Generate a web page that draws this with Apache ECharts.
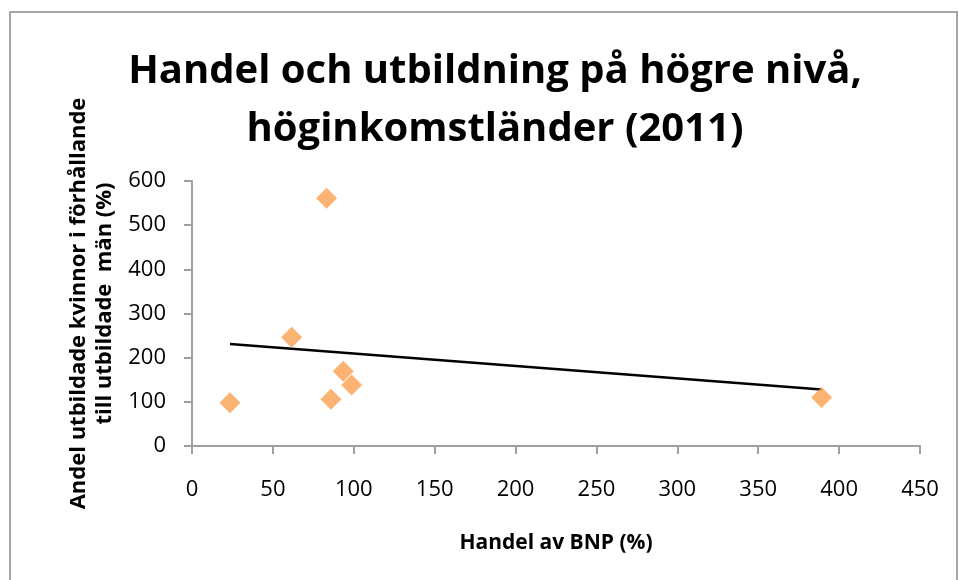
<!DOCTYPE html>
<html>
<head>
<meta charset="utf-8">
<script src="https://cdn.jsdelivr.net/npm/echarts@6/dist/echarts.min.js"></script>
<style>
  html, body { margin: 0; padding: 0; background: #fff; }
  #chart { width: 959px; height: 580px; }
</style>
</head>
<body>
<div id="chart"></div>
<script>
// data
var handelX = [23.5, 61.6, 83.2, 85.9, 93.5, 98.7, 389.2]
var kvinnorY = [98, 246, 561, 106, 169, 138, 110]
// trend line end points
var trendX = [23.5, 389.2]
var trendY = [231, 128]
var xTicks = [0, 50, 100, 150, 200, 250, 300, 350, 400, 450]
var yTicks = [0, 100, 200, 300, 400, 500, 600]

var points = handelX.map(function (x, i) { return [x, kvinnorY[i]] })
var trend = trendX.map(function (x, i) { return [x, trendY[i]] })

var font = 'Open Sans, sans-serif'
var myChart = echarts.init(document.getElementById('chart'))
myChart.setOption({
    animation: false,
    graphic: [{
        type: 'rect',
        shape: { x: 10, y: 12, width: 947, height: 620 },
        style: { fill: 'none', stroke: '#a6a6a6', lineWidth: 2 },
        silent: true
    }],
    title: {
        text: 'Handel och utbildning på högre nivå,\nhöginkomstländer (2011)',
        left: 490,
        top: 38,
        textAlign: 'center',
        textStyle: {
            fontFamily: font,
            fontWeight: 'bold',
            fontSize: 40,
            lineHeight: 58,
            color: '#000'
        }
    },
    grid: {
        left: 192,
        right: 39,
        top: 181,
        bottom: 134,
        outerBoundsMode: 'none'
    },
    xAxis: {
        type: 'value',
        min: xTicks[0],
        max: xTicks[xTicks.length - 1],
        interval: 50,
        name: 'Handel av BNP (%)',
        nameLocation: 'middle',
        nameGap: 87,
        nameTextStyle: { fontFamily: font, fontWeight: 'bold', fontSize: 21, color: '#000' },
        axisLine: { lineStyle: { color: '#a0a0a0', width: 2 } },
        axisTick: { show: true, length: 8, lineStyle: { color: '#a0a0a0', width: 2 } },
        axisLabel: { fontFamily: font, fontSize: 22, color: '#000', margin: 33 },
        splitLine: { show: false }
    },
    yAxis: {
        type: 'value',
        min: yTicks[0],
        max: yTicks[yTicks.length - 1],
        interval: 100,
        name: 'Andel utbildade kvinnor i förhållande\ntill utbildade  män (%)',
        nameLocation: 'middle',
        nameGap: 74,
        nameRotate: 90,
        nameTextStyle: { fontFamily: font, fontWeight: 'bold', fontSize: 22, color: '#000', lineHeight: 26, padding: [0, 0, 0, 20] },
        axisLine: { show: true, lineStyle: { color: '#a0a0a0', width: 2 } },
        axisTick: { show: true, length: 8, lineStyle: { color: '#a0a0a0', width: 2 } },
        axisLabel: { fontFamily: font, fontSize: 22, color: '#000', margin: 26 },
        splitLine: { show: false }
    },
    series: [
        {
            type: 'line',
            data: trend,
            symbol: 'none',
            lineStyle: { color: '#000', width: 2.5 },
            z: 1
        },
        {
            type: 'scatter',
            data: points,
            symbol: 'diamond',
            symbolSize: 21,
            itemStyle: { color: '#f9a04f' },
            z: 2
        }
    ]
})
</script>
</body>
</html>
